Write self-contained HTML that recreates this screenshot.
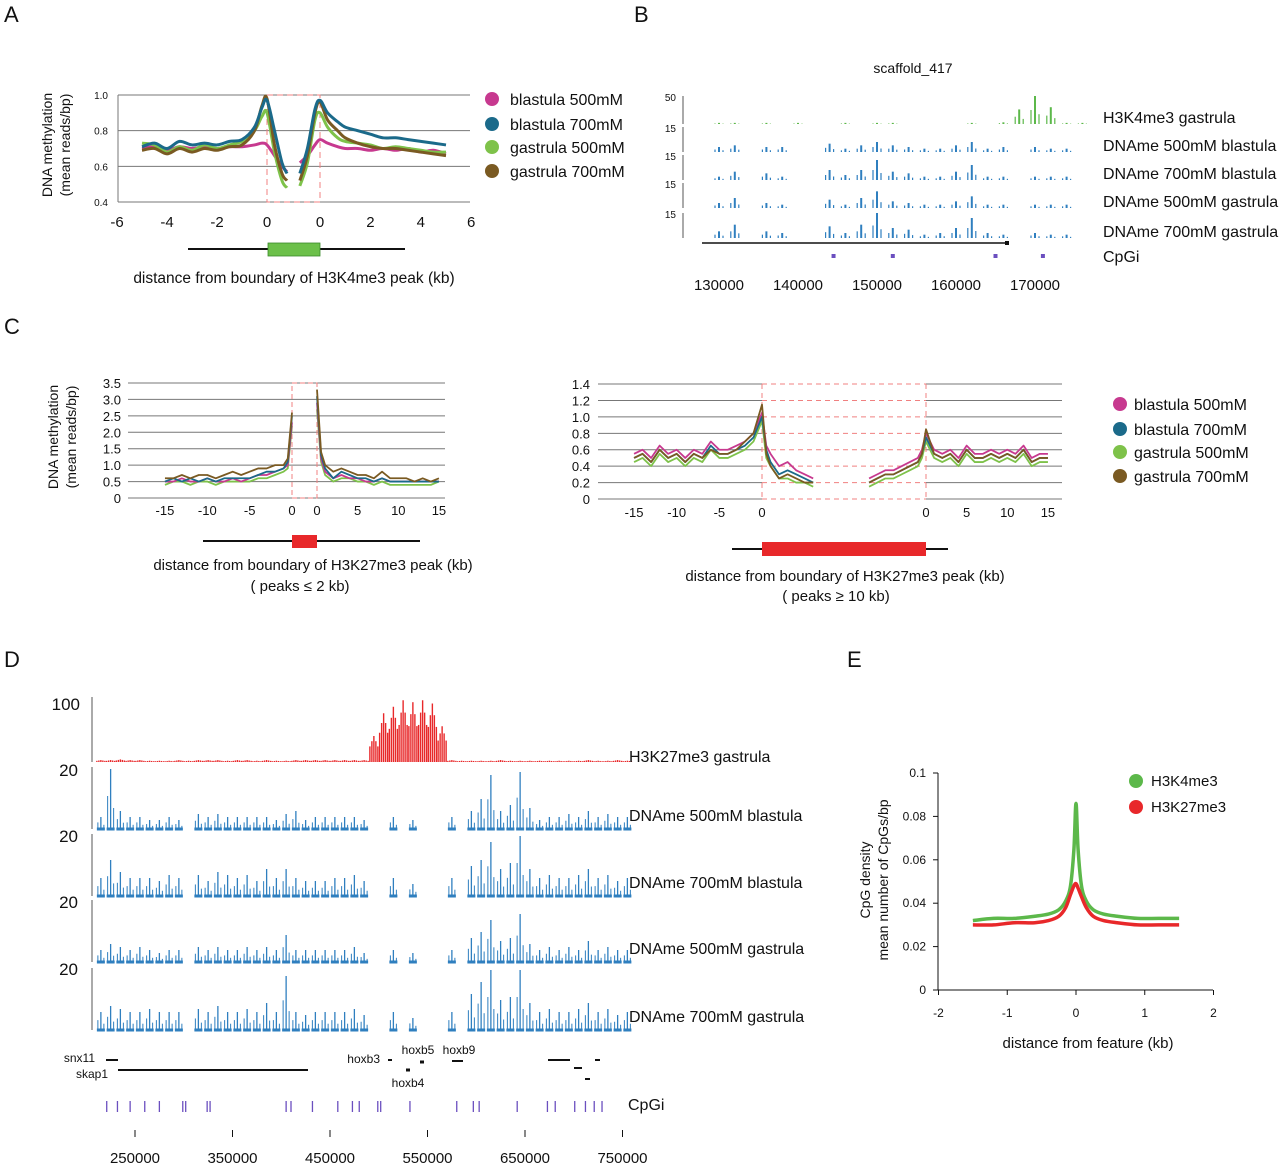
<!DOCTYPE html>
<html><head><meta charset="utf-8">
<style>
html,body{margin:0;padding:0;background:#fff;}
svg{display:block;font-family:"Liberation Sans",Arial,sans-serif;}
</style></head>
<body>
<svg id="fig" width="1280" height="1165" viewBox="0 0 1280 1165" xmlns="http://www.w3.org/2000/svg"></svg>
<script>
// ---------- DATA ----------
// Panel A
const aLeftX = [-5,-4.5,-4,-3.5,-3,-2.5,-2,-1.5,-1,-0.5,-0.2,0,0.3,0.6,0.8];
const aRightX = [-0.8,-0.5,-0.2,0,0.3,0.7,1,1.5,2,2.5,3,3.5,4,4.5,5];
const aB500L = [0.70,0.71,0.69,0.71,0.70,0.71,0.70,0.71,0.71,0.72,0.73,0.72,0.66,0.60,0.57];
const aB500R = [0.62,0.66,0.72,0.75,0.73,0.71,0.70,0.70,0.69,0.70,0.69,0.70,0.68,0.69,0.67];
const aB700L = [0.71,0.73,0.70,0.74,0.72,0.73,0.72,0.74,0.75,0.82,0.93,0.97,0.80,0.62,0.56];
const aB700R = [0.56,0.70,0.92,0.97,0.90,0.85,0.82,0.80,0.78,0.76,0.76,0.75,0.74,0.73,0.72];
const aG500L = [0.73,0.72,0.68,0.71,0.69,0.72,0.70,0.72,0.74,0.80,0.88,0.90,0.68,0.52,0.48];
const aG500R = [0.49,0.62,0.86,0.90,0.82,0.76,0.74,0.73,0.72,0.70,0.71,0.70,0.69,0.68,0.68];
const aG700L = [0.69,0.70,0.67,0.70,0.68,0.70,0.69,0.71,0.72,0.80,0.94,0.98,0.72,0.56,0.52];
const aG700R = [0.52,0.66,0.90,0.96,0.86,0.80,0.76,0.73,0.71,0.70,0.70,0.69,0.68,0.67,0.66];
const aYTicks = [1.0,0.8,0.6,0.4];
const aXTicksL = [-6,-4,-2,0];
const aXTicksR = [0,2,4,6];

// Panel C left
const cLX = [-15,-14,-13,-12,-11,-10,-9,-8,-7,-6,-5,-4,-3,-2,-1,-0.5,0];
const cRX = [0,0.5,1,2,3,4,5,6,7,8,9,10,11,12,13,14,15];
const cB500L = [0.5,0.5,0.6,0.5,0.5,0.6,0.5,0.5,0.6,0.5,0.6,0.7,0.7,0.8,0.9,1.0,2.3];
const cB500R = [2.9,1.2,0.8,0.6,0.7,0.6,0.6,0.5,0.5,0.6,0.5,0.5,0.5,0.5,0.5,0.5,0.5];
const cB700L = [0.5,0.6,0.5,0.6,0.5,0.6,0.5,0.6,0.6,0.6,0.6,0.7,0.8,0.8,0.9,1.1,2.5];
const cB700R = [3.1,1.3,0.9,0.6,0.8,0.7,0.6,0.6,0.5,0.6,0.5,0.5,0.5,0.5,0.5,0.5,0.5];
const cG500L = [0.4,0.5,0.5,0.4,0.5,0.5,0.4,0.5,0.5,0.5,0.5,0.6,0.6,0.7,0.8,0.9,2.2];
const cG500R = [2.7,1.1,0.7,0.5,0.6,0.6,0.5,0.5,0.4,0.5,0.4,0.4,0.4,0.4,0.4,0.4,0.5];
const cG700L = [0.6,0.6,0.7,0.6,0.7,0.7,0.6,0.7,0.8,0.7,0.8,0.9,0.9,1.0,1.0,1.2,2.6];
const cG700R = [3.3,1.4,1.0,0.8,0.9,0.8,0.7,0.7,0.6,0.8,0.6,0.6,0.6,0.5,0.6,0.5,0.6];
const cLYTicks = [0,0.5,1.0,1.5,2.0,2.5,3.0,3.5];
const cLXTicks = [-15,-10,-5,0];
const cRXTicks = [0,5,10,15];

// Panel C right
const crLX = [-15,-14,-13,-12,-11,-10,-9,-8,-7,-6,-5,-4,-3,-2,-1,0,0.5,1,2,3,4,5,6];
const crRX = [-7,-6,-5,-4,-3,-2,-1,-0.5,0,1,2,3,4,5,6,7,8,9,10,11,12,13,14,15];
const crB500L = [0.55,0.60,0.50,0.65,0.55,0.60,0.50,0.60,0.55,0.70,0.60,0.60,0.65,0.70,0.80,1.05,0.65,0.55,0.40,0.45,0.35,0.30,0.25];
const crB500R = [0.25,0.30,0.35,0.35,0.40,0.45,0.50,0.60,0.80,0.60,0.55,0.60,0.50,0.65,0.55,0.55,0.60,0.55,0.60,0.55,0.65,0.50,0.55,0.55];
const crB700L = [0.50,0.55,0.45,0.60,0.50,0.55,0.45,0.55,0.50,0.65,0.55,0.55,0.60,0.65,0.75,1.00,0.60,0.45,0.30,0.35,0.30,0.25,0.20];
const crB700R = [0.20,0.25,0.30,0.30,0.35,0.40,0.45,0.55,0.75,0.55,0.50,0.55,0.45,0.60,0.50,0.50,0.55,0.50,0.55,0.50,0.60,0.45,0.50,0.50];
const crG500L = [0.45,0.50,0.40,0.55,0.45,0.50,0.40,0.50,0.45,0.60,0.50,0.50,0.55,0.60,0.70,0.95,0.50,0.40,0.25,0.25,0.20,0.20,0.15];
const crG500R = [0.15,0.20,0.25,0.25,0.30,0.35,0.40,0.50,0.70,0.50,0.45,0.50,0.40,0.55,0.45,0.45,0.50,0.45,0.50,0.45,0.55,0.40,0.45,0.45];
const crG700L = [0.50,0.55,0.45,0.60,0.50,0.55,0.45,0.55,0.50,0.60,0.55,0.55,0.60,0.70,0.80,1.15,0.55,0.40,0.25,0.30,0.25,0.20,0.20];
const crG700R = [0.20,0.25,0.30,0.30,0.35,0.40,0.45,0.55,0.85,0.55,0.50,0.55,0.45,0.60,0.50,0.50,0.55,0.50,0.55,0.50,0.60,0.45,0.50,0.50];
const crYTicks = [0,0.2,0.4,0.6,0.8,1.0,1.2,1.4];
const crXTicksL = [-15,-10,-5,0];
const crXTicksR = [0,5,10,15];

// Panel B (2kb bins from 127kb)
const bBinStart = 127;
const bH3K4 = [0,2,2,0,2,0,2,0,0,2,0,2,2,0,0,0,0,2,0,3,26,50,30,2,2];
const bD1 = [0,3,4,0,3,3,0,0,5,2,4,6,4,3,2,2,4,6,2,3,0,3,2,2,0];
const bD2 = [0,2,5,0,4,2,0,0,6,3,6,12,5,4,2,2,5,9,2,2,0,2,2,2,0];
const bD3 = [0,3,6,0,3,2,0,0,5,2,6,10,4,3,2,2,4,7,2,2,0,2,2,2,0];
const bD4 = [0,4,8,0,4,3,0,0,7,3,8,15,6,5,2,3,6,12,3,2,0,3,2,2,0];
const bCpG = [144.5,152,165,171];
const bXTicks = [130000,140000,150000,160000,170000];

// Panel D (10kb bins from 210000)
const dBinStart = 210000;
const dH3K27 = [3,3,4,3,3,2,2,2,3,2,3,3,3,2,3,3,2,3,2,2,3,3,3,3,3,3,3,3,40,75,85,95,92,95,90,55,3,2,2,2,2,3,2,2,2,2,2,2,2,2,3,2,2,3,2];
const dB500b = [4,20,6,4,4,3,3,4,3,0,5,4,5,4,4,4,4,4,3,5,6,3,4,4,4,4,4,3,0,0,4,0,3,0,0,0,4,0,6,10,18,6,8,19,7,3,4,4,5,4,6,4,5,4,4];
const dB700b = [6,12,8,6,6,6,5,7,6,0,7,5,8,7,6,7,5,9,6,9,6,5,5,5,6,6,7,5,0,0,6,0,4,0,0,0,6,0,10,12,18,9,11,20,9,6,7,6,6,7,9,6,7,5,6];
const dG500b = [4,6,5,4,5,4,3,4,4,0,5,4,5,4,4,5,4,5,4,9,4,4,4,4,4,4,5,3,0,0,4,0,3,0,0,0,4,0,8,10,14,7,8,16,6,4,5,4,5,4,7,4,5,4,4];
const dG700b = [6,8,7,6,6,7,6,6,6,0,7,6,8,6,6,7,6,9,6,18,6,5,6,6,6,6,7,5,0,0,6,0,4,0,0,0,6,0,12,16,20,10,11,20,9,6,7,6,6,7,9,6,7,5,6];
const dCpG = [221000,232000,245000,260000,275000,299000,302000,324000,327000,405000,410000,432000,458000,473000,480000,499000,502000,532000,580000,597000,603000,642000,673000,681000,701000,712000,721000,729000];
const dXTicks = [250000,350000,450000,550000,650000,750000];

// Panel E
const eX = [-1.5,-1.2,-0.9,-0.6,-0.4,-0.25,-0.15,-0.08,-0.03,0,0.03,0.08,0.15,0.25,0.4,0.6,0.9,1.2,1.5];
const eK4 = [0.032,0.033,0.033,0.034,0.035,0.037,0.041,0.048,0.065,0.086,0.065,0.048,0.041,0.037,0.035,0.034,0.033,0.033,0.033];
const eK27 = [0.030,0.030,0.031,0.031,0.032,0.034,0.038,0.044,0.048,0.049,0.047,0.043,0.038,0.034,0.032,0.031,0.030,0.030,0.030];
const eYTicks = [0,0.02,0.04,0.06,0.08,0.1];
const eXTicks = [-2,-1,0,1,2];

const C_B500='#c7398f', C_B700='#1b6a8a', C_G500='#7ec24a', C_G700='#7a5a22';
const BLUE='#2f7fbf';

// ---------- HELPERS ----------
const NS='http://www.w3.org/2000/svg';
const svg=document.getElementById('fig');
function mk(tag,attrs,name){
  const el=document.createElementNS(NS,tag);
  for(const k in attrs) el.setAttribute(k,attrs[k]);
  
  
  svg.appendChild(el);
  return el;
}
function line(x1,y1,x2,y2,stroke,w,name,dash){
  const a={x1,y1,x2,y2,stroke,'stroke-width':w};
  if(dash) a['stroke-dasharray']=dash;
  return mk('line',a,name);
}
function text(x,y,s,size,name,anchor,rot){
  const a={x,y,'font-size':size,fill:'#111','text-anchor':anchor||'start'};
  if(rot) a.transform='rotate(-90 '+x+' '+y+')';
  const el=mk('text',a,name);
  el.textContent=s;
  return el;
}
function smoothPath(pts){
  let d='M'+pts[0][0]+','+pts[0][1];
  for(let i=0;i<pts.length-1;i++){
    const p0=pts[i-1]||pts[i],p1=pts[i],p2=pts[i+1],p3=pts[i+2]||p2;
    const c1x=p1[0]+(p2[0]-p0[0])/6,c1y=p1[1]+(p2[1]-p0[1])/6;
    const c2x=p2[0]-(p3[0]-p1[0])/6,c2y=p2[1]-(p3[1]-p1[1])/6;
    d+=' C'+c1x+','+c1y+' '+c2x+','+c2y+' '+p2[0]+','+p2[1];
  }
  return d;
}
function series(xs,ys,fx,fy,color,w,name,smooth){
  const pts=xs.map((x,i)=>[fx(x),fy(ys[i])]);
  const d=smooth?smoothPath(pts):'M'+pts.map(p=>p[0]+','+p[1]).join(' L');
  return mk('path',{d,fill:'none',stroke:color,'stroke-width':w,'stroke-linejoin':'round'},name);
}

// ---------- PANEL LETTERS ----------
text(4,22,'A',22,'panel-label-a');
text(634,22,'B',22,'panel-label-b');
text(4,334,'C',22,'panel-label-c');
text(4,667,'D',22,'panel-label-d');
text(847,667,'E',22,'panel-label-e');

// ---------- PANEL A ----------
(function(){
  const yA=v=>95+(1.0-v)/0.6*107;
  const xL=k=>267+k*25, xR=k=>320+k*25.2;
  aYTicks.forEach(t=>{
    line(118,yA(t),470,yA(t),'#777',1,'a-gridline');
    text(108,yA(t)+4,t.toFixed(1),10,'a-y-tick-label','end');
  });
  line(118,95,118,202,'#777',1,'a-y-axis');
  mk('rect',{x:267,y:95,width:53,height:107,fill:'none',stroke:'#f08080','stroke-width':1,'stroke-dasharray':'6,4'},'a-peak-box');
  aXTicksL.forEach(t=>text(xL(t),227,String(t),15,'a-x-tick-label','middle'));
  aXTicksR.forEach(t=>{ if(t>0) text(xR(t),227,String(t),15,'a-x-tick-label','middle');});
  text(xR(0),227,'0',15,'a-x-tick-label','middle');
  text(52,145,'DNA methylation',14,'a-y-axis-title','middle',true);
  text(70,145,'(mean reads/bp)',14,'a-y-axis-title','middle',true);
  series(aLeftX,aB500L,xL,yA,C_B500,3,'a-blastula500-left',true);
  series(aRightX,aB500R,xR,yA,C_B500,3,'a-blastula500-right',true);
  series(aLeftX,aG500L,xL,yA,C_G500,3,'a-gastrula500-left',true);
  series(aRightX,aG500R,xR,yA,C_G500,3,'a-gastrula500-right',true);
  series(aLeftX,aG700L,xL,yA,C_G700,3,'a-gastrula700-left',true);
  series(aRightX,aG700R,xR,yA,C_G700,3,'a-gastrula700-right',true);
  series(aLeftX,aB700L,xL,yA,C_B700,3,'a-blastula700-left',true);
  series(aRightX,aB700R,xR,yA,C_B700,3,'a-blastula700-right',true);
  line(188,249,405,249,'#111',2,'a-region-line');
  mk('rect',{x:268,y:243,width:52,height:13,fill:'#6cc04a',stroke:'#3a8a2a','stroke-width':0.8},'a-peak-rect');
  text(294,283,'distance from boundary of H3K4me3 peak (kb)',15.5,'a-x-axis-title','middle');
  const lg=[[C_B500,'blastula 500mM',99],[C_B700,'blastula 700mM',124],[C_G500,'gastrula 500mM',147],[C_G700,'gastrula 700mM',171]];
  lg.forEach(l=>{mk('circle',{cx:492,cy:l[2],r:7,fill:l[0]},'a-legend-marker');text(510,l[2]+6,l[1],16,'a-legend-label');});
})();

// ---------- PANEL B ----------
(function(){
  const xB=kb=>719+(kb-130)*7.9;
  text(913,73,'scaffold_417',14,'b-title','middle');
  const tracks=[[bH3K4,124,50,'#5cb84a','H3K4me3 gastrula',28],[bD1,152,15,BLUE,'DNAme 500mM blastula',25],[bD2,180,15,BLUE,'DNAme 700mM blastula',25],[bD3,208,15,BLUE,'DNAme 500mM gastrula',25],[bD4,238,15,BLUE,'DNAme 700mM gastrula',25]];
  tracks.forEach((t,ti)=>{
    const [vals,base,max,col,lab,h]=t;
    text(1103,base-1,lab,16,'b-track-label');
    line(683,base-h,683,base,'#555',1,'b-track-scale');
    text(676,base-h+5,String(max),10,'b-track-scale-label','end');
    vals.forEach((v,i)=>{
      if(v<=0) return;
      const x=xB(bBinStart+i*2+1);
      const hh=Math.min(v/max*h,h);
      line(x,base,x,base-hh,col,2,'b-signal-bar');
      line(x-4,base,x-4,base-hh*0.5,col,1.2,'b-signal-bar');
      line(x+4,base,x+4,base-hh*0.35,col,1.2,'b-signal-bar');
    });
  });
  line(702,243,1008,243,'#111',1.5,'b-gene-model');
  mk('rect',{x:1005,y:241,width:4,height:4,fill:'#111'},'b-gene-end');
  text(1103,262,'CpGi',16,'b-cpg-label');
  bCpG.forEach(k=>mk('rect',{x:xB(k)-2,y:254,width:4,height:4,fill:'#6b4fbf'},'b-cpg-island'));
  bXTicks.forEach(t=>text(xB(t/1000),290,String(t),15,'b-x-tick-label','middle'));
})();

// ---------- PANEL C LEFT ----------
(function(){
  const y=v=>498-v*32.86;
  const xL=k=>292+k*8.47, xR=k=>317+k*8.13;
  cLYTicks.forEach(t=>{line(128,y(t),445,y(t),'#777',1,'c-left-gridline');text(121,y(t)+5,t===0?'0':t.toFixed(1),13,'c-left-y-tick-label','end');});
  mk('rect',{x:292,y:383,width:25,height:115,fill:'none',stroke:'#f08080','stroke-width':1,'stroke-dasharray':'5,3'},'c-left-peak-box');
  cLXTicks.forEach(t=>text(xL(t),515,String(t),13,'c-left-x-tick-label','middle'));
  cRXTicks.forEach(t=>text(xR(t),515,String(t),13,'c-left-x-tick-label','middle'));
  text(58,437,'DNA methylation',14,'c-y-axis-title','middle',true);
  text(76,437,'(mean reads/bp)',14,'c-y-axis-title','middle',true);
  [[cG500L,cG500R,C_G500],[cB500L,cB500R,C_B500],[cB700L,cB700R,C_B700],[cG700L,cG700R,C_G700]].forEach(s=>{
    series(cLX,s[0],xL,y,s[2],1.8,'c-left-series-left',false);
    series(cRX,s[1],xR,y,s[2],1.8,'c-left-series-right',false);
  });
  line(203,541,420,541,'#111',2,'c-left-region-line');
  mk('rect',{x:292,y:535,width:25,height:13,fill:'#e8282a'},'c-left-peak-rect');
  text(313,570,'distance from boundary of H3K27me3 peak (kb)',15,'c-left-x-axis-title','middle');
  text(300,591,'( peaks  \u2264 2 kb)',15,'c-left-subtitle','middle');
})();

// ---------- PANEL C RIGHT ----------
(function(){
  const y=v=>499-v*82.1;
  const xL=k=>762+k*8.53, xR=k=>926+k*8.13;
  crYTicks.forEach(t=>{
    line(598,y(t),762,y(t),'#777',1,'c-right-gridline');
    line(926,y(t),1062,y(t),'#777',1,'c-right-gridline');
    line(762,y(t),926,y(t),'#f08080',1,'c-right-gridline-dashed','5,4');
    text(590,y(t)+5,t===0?'0':t.toFixed(1),13,'c-right-y-tick-label','end');
  });
  line(762,384,762,499,'#f08080',1,'c-right-box-left','5,4');
  line(926,384,926,499,'#f08080',1,'c-right-box-right','5,4');
  crXTicksL.forEach(t=>text(xL(t),517,String(t),13,'c-right-x-tick-label','middle'));
  crXTicksR.forEach(t=>text(xR(t),517,String(t),13,'c-right-x-tick-label','middle'));
  [[crG500L,crG500R,C_G500],[crB500L,crB500R,C_B500],[crB700L,crB700R,C_B700],[crG700L,crG700R,C_G700]].forEach(s=>{
    series(crLX,s[0],xL,y,s[2],1.8,'c-right-series-left',false);
    series(crRX,s[1],xR,y,s[2],1.8,'c-right-series-right',false);
  });
  line(732,549,948,549,'#111',2,'c-right-region-line');
  mk('rect',{x:762,y:542,width:164,height:14,fill:'#e8282a'},'c-right-peak-rect');
  text(845,581,'distance from boundary of H3K27me3 peak (kb)',15,'c-right-x-axis-title','middle');
  text(836,601,'( peaks  \u2265 10 kb)',15,'c-right-subtitle','middle');
  const lg=[[C_B500,'blastula 500mM',404],[C_B700,'blastula 700mM',429],[C_G500,'gastrula 500mM',452],[C_G700,'gastrula 700mM',476]];
  lg.forEach(l=>{mk('circle',{cx:1120,cy:l[2],r:7,fill:l[0]},'c-legend-marker');text(1134,l[2]+6,l[1],16,'c-legend-label');});
})();

// ---------- PANEL D ----------
(function(){
  const xD=p=>135+(p-250000)/100000*97.5;
  text(80,710,'100',17,'d-h3k27-scale-max','end');
  line(92,697,92,762,'#555',1,'d-h3k27-scale');
  dH3K27.forEach((v,i)=>{
    const x=xD(dBinStart+i*10000+5000), hh=v/100*65;
    for(let o=-4;o<=4;o+=2){line(x+o,762,x+o,762-hh*(o===0?1:(Math.abs(o)===2?0.8:0.6)),'#e8282a',1.4,'d-h3k27-bar');}
  });
  text(629,762,'H3K27me3 gastrula',16,'d-track-label');
  const tr=[[dB500b,829,'DNAme 500mM blastula',776],[dB700b,896,'DNAme 700mM blastula',842],[dG500b,962,'DNAme 500mM gastrula',908],[dG700b,1030,'DNAme 700mM gastrula',975]];
  tr.forEach(t=>{
    const [vals,base,lab,lbly]=t;
    text(78,lbly,'20',17,'d-track-scale-label','end');
    line(92,base-62,92,base,'#555',1,'d-track-scale');
    text(629,base-8,lab,16,'d-track-label');
    vals.forEach((v,i)=>{
      if(v<=0) return;
      const x=xD(dBinStart+i*10000+5000), hh=Math.min(v/20*60,62);
      line(x-4,base,x+4,base,BLUE,3,'d-signal-base');
      line(x,base,x,base-hh,BLUE,1.3,'d-signal-bar');
      line(x-3,base,x-3,base-hh*0.55,BLUE,1,'d-signal-bar');
      line(x+3,base,x+3,base-hh*0.35,BLUE,1,'d-signal-bar');
    });
  });
  line(118,1070,308,1070,'#111',2,'d-gene-skap1');
  line(106,1060,118,1060,'#111',2,'d-gene-snx11');
  text(95,1062,'snx11',12,'d-gene-label','end');
  text(108,1078,'skap1',12,'d-gene-label','end');
  text(380,1063,'hoxb3',12,'d-gene-label','end');
  line(388,1060,392,1060,'#111',2,'d-gene-hoxb3');
  text(418,1054,'hoxb5',12,'d-gene-label','middle');
  text(408,1087,'hoxb4',12,'d-gene-label','middle');
  text(459,1054,'hoxb9',12,'d-gene-label','middle');
  line(420,1062,424,1062,'#111',3,'d-gene-hoxb5');
  line(406,1070,410,1070,'#111',3,'d-gene-hoxb4');
  line(452,1061,463,1061,'#111',2,'d-gene-hoxb9');
  line(548,1060,570,1060,'#111',2,'d-gene-cluster');
  line(574,1068,582,1068,'#111',2,'d-gene-cluster');
  line(585,1079,590,1079,'#111',2,'d-gene-cluster');
  line(595,1060,600,1060,'#111',2,'d-gene-cluster');
  text(628,1110,'CpGi',16,'d-cpg-label');
  dCpG.forEach(p=>line(xD(p),1101,xD(p),1112,'#6b4fbf',1.3,'d-cpg-island'));
  dXTicks.forEach(t=>{line(xD(t),1130,xD(t),1137,'#111',1,'d-x-tick');text(xD(t),1163,String(t),15,'d-x-tick-label','middle');});
})();

// ---------- PANEL E ----------
(function(){
  const y=v=>990-v*2170, x=k=>1076+k*68.75;
  line(938,773,938,990,'#111',1,'e-y-axis');
  line(938,990,1213,990,'#111',1,'e-x-axis');
  eYTicks.forEach(t=>{line(933,y(t),938,y(t),'#111',1,'e-y-tick');text(926,y(t)+4,t===0?'0':String(t),12,'e-y-tick-label','end');});
  eXTicks.forEach(t=>{line(x(t),990,x(t),995,'#111',1,'e-x-tick');text(x(t),1017,String(t),12,'e-x-tick-label','middle');});
  series(eX,eK4,x,y,'#5cb84a',3.5,'e-h3k4me3-line',true);
  series(eX,eK27,x,y,'#e8282a',3.5,'e-h3k27me3-line',true);
  text(870,880,'CpG density',14,'e-y-axis-title','middle',true);
  text(888,880,'mean number of CpGs/bp',14,'e-y-axis-title','middle',true);
  text(1088,1048,'distance from feature (kb)',15,'e-x-axis-title','middle');
  mk('circle',{cx:1136,cy:781,r:7,fill:'#5cb84a'},'e-legend-marker');
  text(1151,786,'H3K4me3',15,'e-legend-label');
  mk('circle',{cx:1136,cy:807,r:7,fill:'#e8282a'},'e-legend-marker');
  text(1151,812,'H3K27me3',15,'e-legend-label');
})();
</script>
</body></html>
